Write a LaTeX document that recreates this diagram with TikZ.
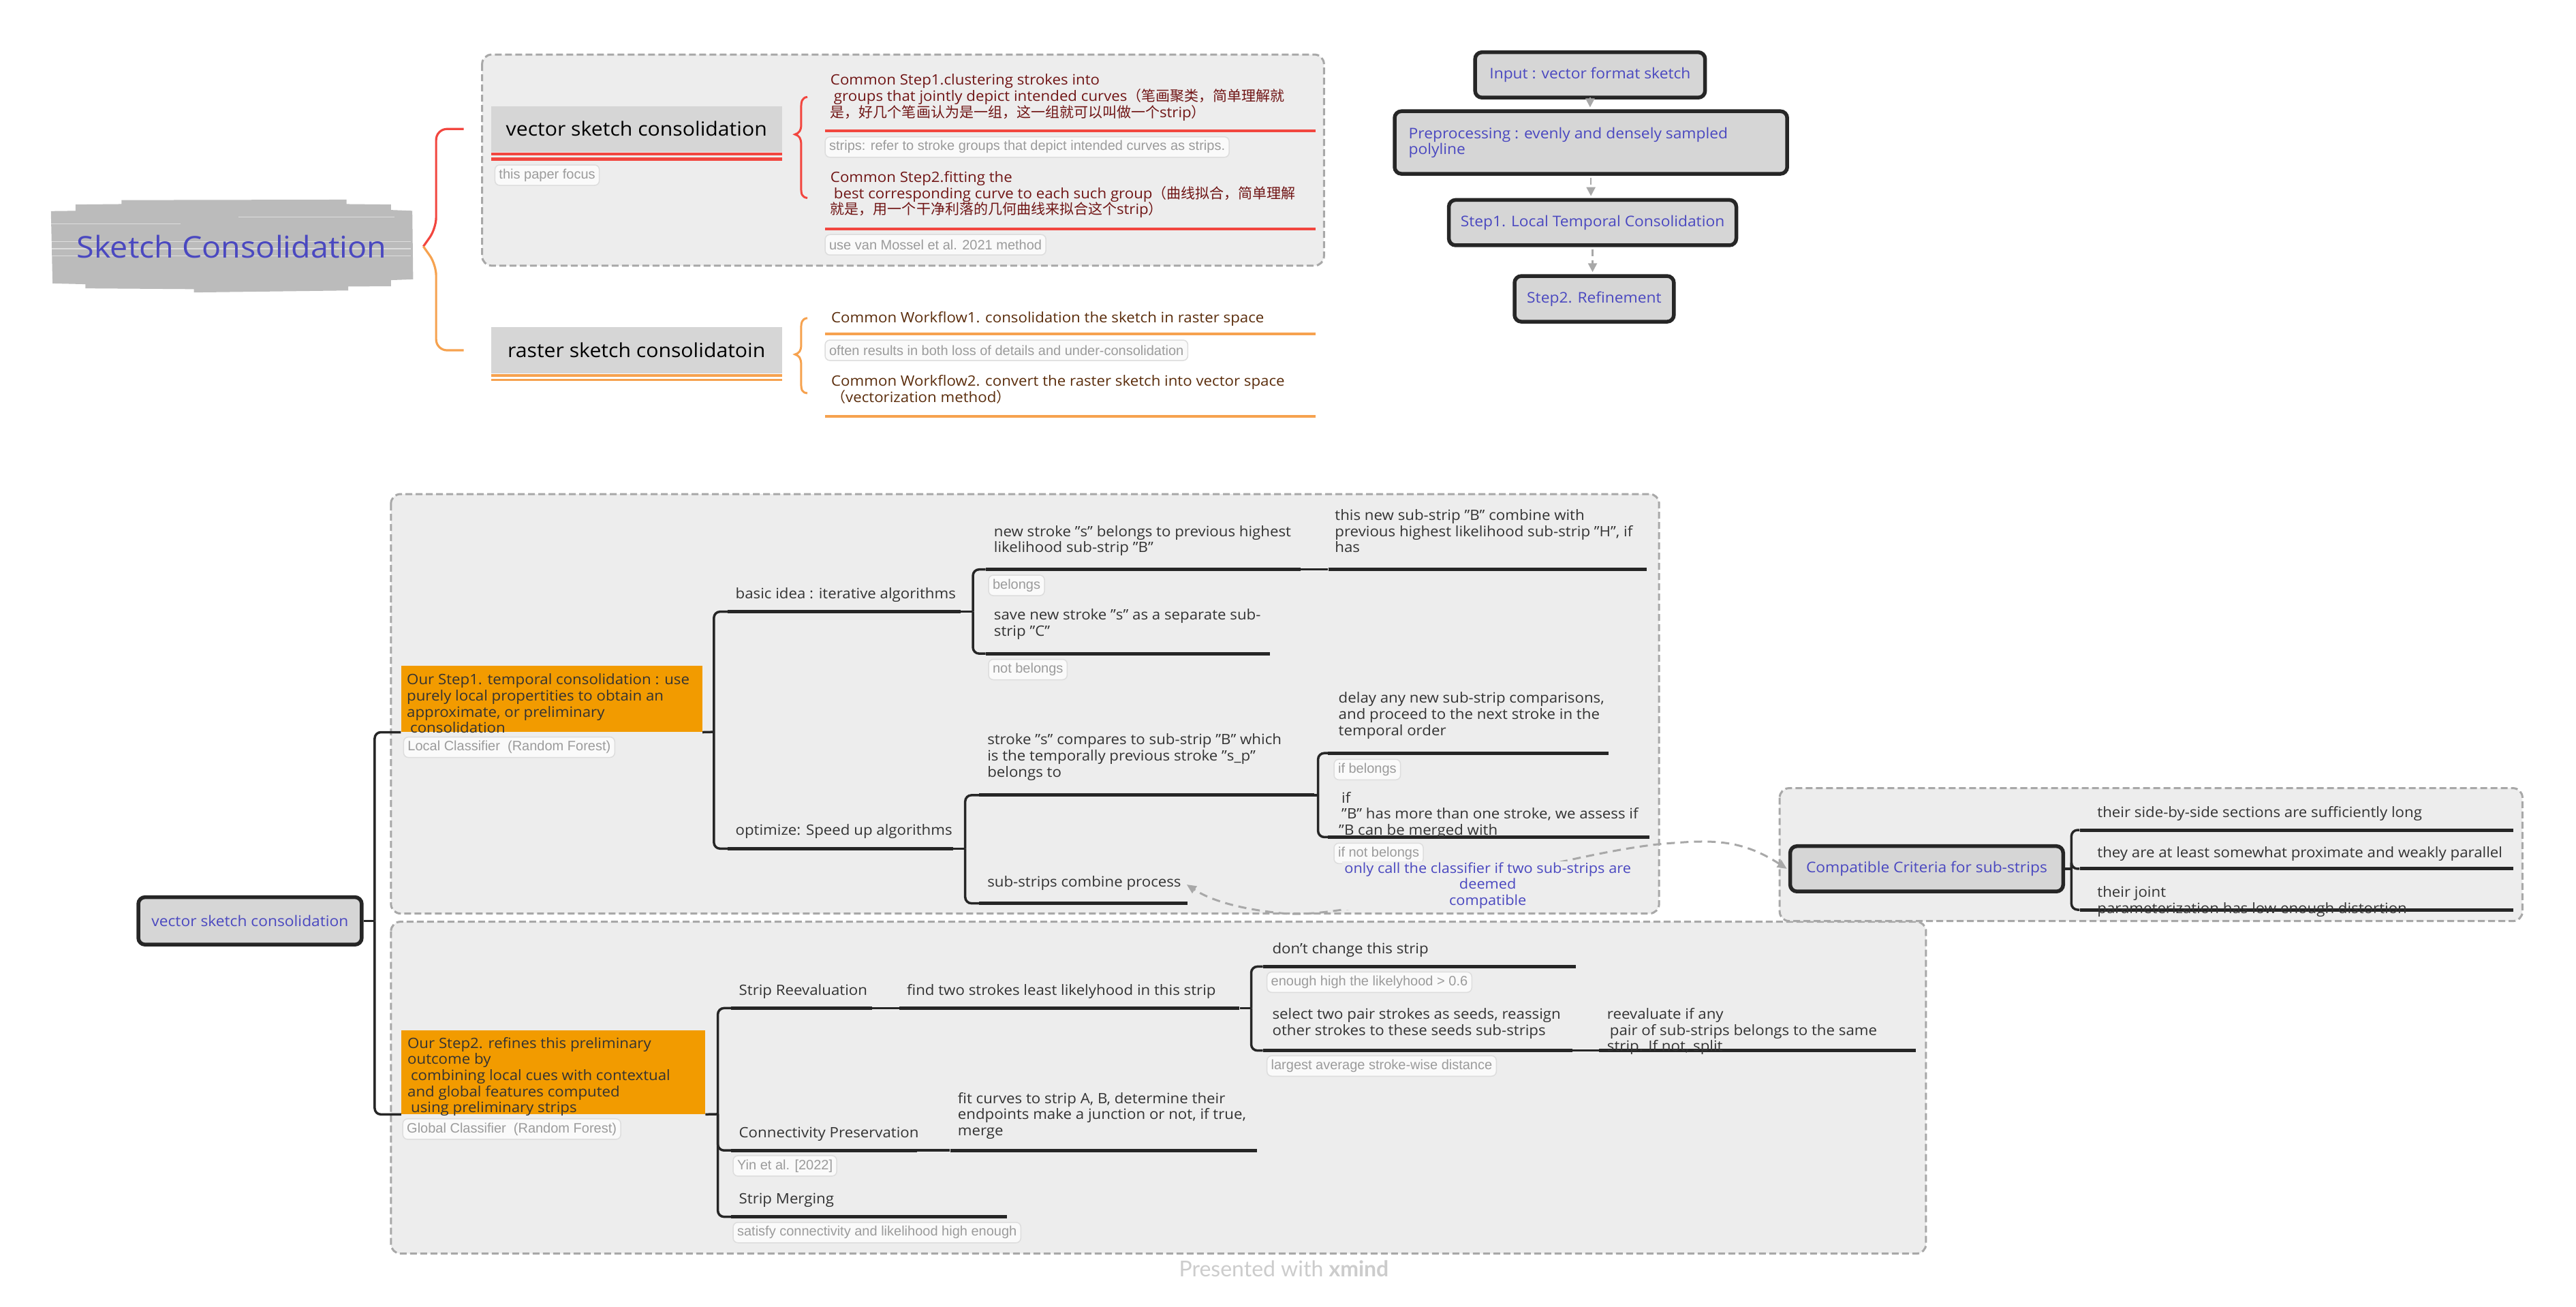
\documentclass[tikz,border=0pt]{standalone}
\usepackage{fontspec}
\setmainfont{Open Sans}[FakeStretch=1.06]
\newfontfamily\cjk{Noto Sans CJK SC}
\newfontfamily\lblf{Liberation Sans}
\newfontfamily\latof{Lato}
\usetikzlibrary{arrows.meta,calc}
\definecolor{ink}{HTML}{262626}
\definecolor{textc}{HTML}{333333}
\definecolor{grpfill}{HTML}{EDEDED}
\definecolor{grpline}{HTML}{A8A8A8}
\definecolor{nodegray}{HTML}{D6D6D6}
\definecolor{rootgray}{HTML}{BBBBBB}
\definecolor{blueT}{HTML}{4A48C0}
\definecolor{redL}{HTML}{F2463F}
\definecolor{orangeL}{HTML}{F6A24F}
\definecolor{maroon}{HTML}{701515}
\definecolor{brownT}{HTML}{5A2C0B}
\definecolor{orangeBox}{HTML}{F29B00}
\definecolor{lblT}{HTML}{9B9B9B}
\definecolor{lblB}{HTML}{DDDDDD}
\definecolor{lblF}{HTML}{FAFAFA}
\definecolor{arrowG}{HTML}{A8A8A8}
\definecolor{footG}{HTML}{CCCCCC}
\def\U{*2.411pt}
\newcommand{\ml}[1]{\vtop{\baselineskip=23.6pt\lineskiplimit=-20pt\halign{##\hfil\cr#1\crcr}}}
\newcommand{\mlc}[1]{\vtop{\baselineskip=23.6pt\lineskiplimit=-20pt\halign{\hfil##\hfil\cr#1\crcr}}}
\newcommand{\zh}[1]{{\cjk\fontsize{21}{23.6}\selectfont #1}}
\begin{document}
\begin{tikzpicture}[x=2.411pt,y=-2.411pt,
  txt/.style={inner sep=0pt, anchor=base west, text=textc, font=\fontsize{21}{23.6}\selectfont},
  ul/.style={rectangle, fill=ink, inner sep=0pt, minimum height=5pt, anchor=west},
  ulred/.style={ul, fill=redL, minimum height=4.5pt},
  ulor/.style={ul, fill=orangeL, minimum height=4.5pt},
  conn/.style={draw=ink, line width=3.5pt},
  rc/.style={conn, rounded corners=9pt},
  lbl/.style={rectangle, rounded corners=7pt, draw=lblB, fill=lblF, line width=1.5pt, inner xsep=6pt, inner ysep=0pt, minimum height=30pt, text=lblT, font=\lblf\fontsize{20}{22}\selectfont, anchor=west},
  grp/.style={draw=grpline, fill=grpfill, line width=3pt, dash pattern=on 10pt off 5pt, rounded corners=14pt},
  fbox/.style={rectangle, fill=nodegray, draw=ink, line width=5.5pt, rounded corners=10pt, text=blueT, font=\fontsize{21.5}{24}\selectfont, inner sep=0pt},
  gnode/.style={rectangle, fill=nodegray, inner sep=0pt, text=black, font=\fontsize{28.5}{32}\selectfont},
  obox/.style={rectangle, fill=orangeBox, inner sep=0pt, anchor=north west},
  arr/.style={draw=arrowG, line width=2.5pt, -{Triangle[length=13pt,width=13pt]}, shorten >=3pt, shorten <=3pt},
]
\fill[white] (0,0) rectangle (1568.2,795.5);
\useasboundingbox (0,0) rectangle (1568.2,795.5);

% groups
\draw[grp] (293.5,33.2) rectangle (806,161.7);
\draw[grp] (238,300.7) rectangle (1010,556);
\draw[grp] (238,561) rectangle (1172.5,763);
\draw[grp] (1083.4,479.7) rectangle (1535.6,560.6);

% root blob
\fill[rootgray] (31,128.5) -- (46,128.3) -- (46,124.5) -- (74,124.2) -- (74,121.8) -- (211,121.5) -- (211,124.2) -- (238,124.5) -- (238,127.8) -- (251,128.3) -- (251.5,170) -- (238,170.5) -- (238,174.2) -- (212,174.4) -- (212,176.8) -- (118,178) -- (118,176) -- (52,175.5) -- (52,173) -- (32,172.5) -- cycle;
\draw[white, opacity=0.5, line width=1.2pt] (145,132.2) -- (240,132.2) (31,136.4) -- (110,136.4) (31,147) -- (250,147) (31,151.4) -- (250,151.4) (31,155.6) -- (250,155.6);
\node[inner sep=0pt, minimum width=220\U, minimum height=50\U, text=blueT, font=\fontsize{44}{50}\selectfont] (root) at (141,150) {Sketch Consolidation};

% top branches
\node[gnode, minimum width=177\U, minimum height=28\U] (vec) at (387.5,78.5) {vector sketch consolidation};
\fill[redL] (299,92.9) rectangle (476,94.7);
\fill[redL] (299,96) rectangle (476,97.7);
\node[lbl] (lFocus) at (301,106.6) {this paper focus};
\node[gnode, minimum width=177\U, minimum height=28.5\U] (ras) at (387.5,213.2) {raster sketch consolidatoin};
\fill[orangeL] (299,227.6) rectangle (476,229.4);
\fill[orangeL] (299,230.4) rectangle (476,232);

\draw[redL, line width=3.2pt, rounded corners=16pt] ([xshift=16pt]root.east) -- (265.5,139) |- ([xshift=-40pt]vec.west);
\draw[orangeL, line width=3.2pt, rounded corners=16pt] ([xshift=16pt]root.east) -- (265.5,161) |- ([xshift=-40pt]ras.west);

% braces
\draw[redL, line width=3pt] (491.5,59) .. controls (488,59.5) and (487.7,62) .. (487.7,66) -- (487.7,76) .. controls (487.7,79.5) and (486.5,81) .. (484,81.8) .. controls (486.5,82.6) and (487.7,84) .. (487.7,88) -- (487.7,114) .. controls (487.7,118) and (488,120) .. (491.5,120.5);
\draw[orangeL, line width=3pt] (491.5,193.6) .. controls (488,194) and (487.7,196.5) .. (487.7,200) -- (487.7,210) .. controls (487.7,213.5) and (486.5,215) .. (484,215.7) .. controls (486.5,216.5) and (487.7,218) .. (487.7,222) -- (487.7,233) .. controls (487.7,237) and (488,239) .. (491.5,239.3);

% vector sketch consolidation children
\node[txt, text=maroon] (tS1) at (505.5,51.8) {\ml{Common Step1.clustering strokes into\cr
 \hskip5pt groups that jointly depict intended curves\zh{（笔画聚类，简单理解就}\cr
 \zh{是，好几个笔画认为是一组，这一组就可以叫做一个}strip\zh{）}}};
\node[ulred, minimum width=299\U] (uS1) at (502,79.6) {};
\node[lbl] (lStrips) at (502,89.5) {strips: refer to stroke groups that depict intended curves as strips.};
\node[txt, text=maroon] (tS2) at (505.5,111) {\ml{Common Step2.fitting the\cr
 \hskip5pt best corresponding curve to each such group\zh{（曲线拟合，简单理解}\cr
 \zh{就是，用一个干净利落的几何曲线来拟合这个}strip\zh{）}}};
\node[ulred, minimum width=299\U] (uS2) at (502,139.3) {};
\node[lbl] (lMossel) at (502,149) {use van Mossel et al. 2021 method};

% raster children
\node[txt, text=brownT] (tW1) at (506,196.3) {Common Workflow1. consolidation the sketch in raster space};
\node[ulor, minimum width=299\U] (uW1) at (502,203.2) {};
\node[lbl] (lOften) at (502,213.2) {often results in both loss of details and under-consolidation};
\node[txt, text=brownT] (tW2) at (506,235) {\ml{Common Workflow2. convert the raster sketch into vector space\cr \zh{（}vectorization method\zh{）}}};
\node[ulor, minimum width=299\U] (uW2) at (502,253.5) {};

% flowchart
\node[fbox, minimum width=140\U, minimum height=27.6\U] (fIn) at (968,45.6) {Input : vector format sketch};
\node[fbox, minimum width=239\U, minimum height=38.1\U] (fPre) at (968.5,86.75) {};
\node[txt, text=blueT, font=\fontsize{21.5}{23.6}\selectfont] (fPreT) at (857.5,84.3) {\ml{Preprocessing : evenly and densely sampled\cr polyline}};
\node[fbox, minimum width=175\U, minimum height=27.6\U] (fS1) at (969.5,135.5) {Step1. Local Temporal Consolidation};
\node[fbox, minimum width=97\U, minimum height=27.8\U] (fS2) at (970.5,181.9) {Step2. Refinement};
\draw[arr] (fIn.south) -- (fIn.south |- fPre.north);
\draw[arr, dash pattern=on 10pt off 6pt] (fPre.south) -- (fPre.south |- fS1.north);
\draw[arr, dash pattern=on 10pt off 6pt] (fS1.south) -- (fS1.south |- fS2.north);

% bottom tree
\node[fbox, minimum width=136\U, minimum height=28.9\U] (bRoot) at (152.2,560.5) {vector sketch consolidation};
\node[obox, minimum width=183.5\U, minimum height=40.2\U] (s1) at (244,405.3) {};
\node[txt] (s1t) at (247.6,416.8) {\ml{Our Step1. temporal consolidation : use\cr purely local propertities to obtain an\cr approximate, or preliminary\cr \hskip5pt consolidation}};
\node[lbl] (lLocal) at (245.4,454.8) {Local Classifier\ \ (Random Forest)};
\node[obox, minimum width=185.1\U, minimum height=51.1\U] (s2) at (244.2,627) {};
\node[txt] (s2t) at (248,638) {\ml{Our Step2. refines this preliminary\cr outcome by\cr \hskip5pt combining local cues with contextual\cr and global features computed\cr \hskip5pt using preliminary strips}};
\node[lbl] (lGlobal) at (244.9,687.2) {Global Classifier\ \ (Random Forest)};
\coordinate (f0) at (228.1,560.5);
\draw[conn] (bRoot.east) -- (f0);
\draw[rc] (f0) |- (s1.south west);
\draw[rc] (f0) |- (s2.south west);

% step1 branch
\coordinate (f1) at (434.6,445.5);
\draw[conn] (s1.south east) -- (f1);
\node[ul, minimum width=141.6\U] (uBasic) at (443,372.3) {};
\node[txt] (tBasic) at (447.7,364.2) {basic idea : iterative algorithms};
\node[ul, minimum width=137\U] (uOpt) at (443,516.5) {};
\node[txt] (tOpt) at (447.7,508.4) {optimize: Speed up algorithms};
\draw[rc] (f1) |- (uBasic.west);
\draw[rc] (f1) |- (uOpt.west);

\coordinate (f2) at (592.3,372.3);
\draw[conn] (uBasic.east) -- (f2);
\node[ul, minimum width=191.8\U] (uNew) at (600,346.6) {};
\node[txt] (tNew) at (605,326.5) {\ml{new stroke "s" belongs to previous highest\cr likelihood sub-strip "B"}};
\node[lbl] (lBel) at (601.5,356.3) {belongs};
\node[ul, minimum width=173\U] (uSave) at (600,397.8) {};
\node[txt] (tSave) at (605,377.3) {\ml{save new stroke "s" as a separate sub-\cr strip "C"}};
\node[lbl] (lNot) at (601.5,407.5) {not belongs};
\draw[rc] (f2) |- (uNew.west);
\draw[rc] (f2) |- (uSave.west);
\node[ul, minimum width=194\U] (uThis) at (808.5,346.6) {};
\node[txt] (tThis) at (812.6,316.7) {\ml{this new sub-strip "B" combine with\cr previous highest likelihood sub-strip "H", if\cr has}};
\draw[conn] (uNew.east) -- (uThis.west);

\coordinate (f3) at (587.6,516.5);
\draw[conn] (uOpt.east) -- (f3);
\node[ul, minimum width=204\U] (uCmp) at (596,484) {};
\node[txt] (tCmp) at (601,453.3) {\ml{stroke "s" compares to sub-strip "B" which\cr is the temporally previous stroke "s\_p"\cr belongs to}};
\node[ul, minimum width=127\U] (uSub) at (596,549.8) {};
\node[txt] (tSub) at (601,539.8) {sub-strips combine process};
\draw[rc] (f3) |- (uCmp.west);
\draw[rc] (f3) |- (uSub.west);

\coordinate (f4) at (802.4,484);
\draw[conn] (uCmp.east) -- (f4);
\node[ul, minimum width=170.6\U] (uDelay) at (808.4,458.4) {};
\node[txt] (tDelay) at (814.8,428) {\ml{delay any new sub-strip comparisons,\cr and proceed to the next stroke in the\cr temporal order}};
\node[lbl] (lIfB) at (811.8,468.4) {if belongs};
\node[ul, minimum width=195.6\U] (uIf) at (808.4,509.5) {};
\node[txt] (tIf) at (815,488.6) {\ml{\hskip4pt if\cr \hskip4pt "B" has more than one stroke, we assess if\cr "B can be merged with}};
\node[lbl] (lIfN) at (811.8,519.4) {if not belongs};
\draw[rc] (f4) |- (uDelay.west);
\draw[rc] (f4) |- (uIf.west);

% compatible criteria
\node[fbox, minimum width=166.2\U, minimum height=27.6\U] (cmp) at (1172.9,528.8) {Compatible Criteria for sub-strips};
\coordinate (f5) at (1261,528.8);
\draw[conn] (cmp.east) -- (f5);
\node[ul, minimum width=264\U] (uC1) at (1266,505.2) {};
\node[ul, minimum width=264\U] (uC2) at (1266,528.8) {};
\node[ul, minimum width=264\U] (uC3) at (1266,553.7) {};
\node[txt] (tC1) at (1276.7,497.7) {their side-by-side sections are sufficiently long};
\node[txt] (tC2) at (1276.7,521.9) {they are at least somewhat proximate and weakly parallel};
\node[txt] (tC3) at (1276.7,546.1) {\ml{their joint\cr parameterization has low enough distortion}};
\draw[rc] (f5) |- (uC1.west);
\draw[rc] (f5) |- (uC2.west);
\draw[rc] (f5) |- (uC3.west);

\draw[draw=arrowG, line width=3pt, dash pattern=on 12pt off 8pt, {Triangle[length=14pt,width=12pt]}-{Triangle[length=14pt,width=12pt]}] ([xshift=-2pt]cmp.west) .. controls (1062,512) and (1045,511) .. (1020,513) .. controls (960,516) and (830,560) .. (782,556) .. controls (755,553.5) and (737,548) .. ([xshift=8pt,yshift=-2pt]tSub.east);
\node[txt, text=blueT, fill=grpfill, inner xsep=3pt, inner ysep=2pt, font=\fontsize{20.5}{23.6}\selectfont, anchor=base] (tOnly) at (905.7,531.4) {\mlc{only call the classifier if two sub-strips are\cr deemed\cr compatible}};

% step2 branch
\coordinate (f6) at (437,678.1);
\draw[conn] (s2.south east) -- (f6);
\node[ul, minimum width=85.7\U] (uReev) at (445,613.6) {};
\node[txt] (tReev) at (449.8,605.6) {Strip Reevaluation};
\node[ul, minimum width=113\U] (uConn) at (445,700.2) {};
\node[txt] (tConn) at (449.8,692.5) {Connectivity Preservation};
\node[lbl] (lYin) at (446,709.6) {Yin et al. [2022]};
\node[ul, minimum width=168\U] (uMerge) at (445,740.6) {};
\node[txt] (tMerge) at (449.8,732.7) {Strip Merging};
\node[lbl] (lSat) at (446,750.2) {satisfy connectivity and likelihood high enough};
\draw[rc] (f6) |- (uReev.west);
\draw[rc] (f6) |- (uConn.west);
\draw[rc] (f6) |- (uMerge.west);

\node[ul, minimum width=207.1\U] (uFind) at (547.4,613.6) {};
\node[txt] (tFind) at (552,605.6) {find two strokes least likelyhood in this strip};
\draw[conn] (uReev.east) -- (uFind.west);
\coordinate (f7) at (761.7,613.6);
\draw[conn] (uFind.east) -- (f7);
\node[ul, minimum width=190.5\U] (uDont) at (768.8,588.3) {};
\node[txt] (tDont) at (774.5,580.3) {don't change this strip};
\node[lbl] (lEn) at (771,597.8) {enough high the likelyhood > 0.6};
\node[ul, minimum width=188.2\U] (uSel) at (768.8,639.4) {};
\node[txt] (tSel) at (774.5,620.3) {\ml{select two pair strokes as seeds, reassign\cr other strokes to these seeds sub-strips}};
\node[lbl] (lLarg) at (771,648.8) {largest average stroke-wise distance};
\draw[rc] (f7) |- (uDont.west);
\draw[rc] (f7) |- (uSel.west);
\node[ul, minimum width=192.8\U] (uRe) at (973.5,639.4) {};
\node[txt] (tRe) at (978.3,620.3) {\ml{reevaluate if any\cr \hskip4pt pair of sub-strips belongs to the same\cr strip. If not, split}};
\draw[conn] (uSel.east) -- (uRe.west);
\node[ul, minimum width=186.7\U] (uFit) at (578.3,700.2) {};
\node[txt] (tFit) at (583,671.5) {\ml{fit curves to strip A, B, determine their\cr endpoints make a junction or not, if true,\cr merge}};
\draw[conn] (uConn.east) -- (uFit.west);

\node[inner sep=0pt, anchor=base west, text=footG, font=\latof\fontsize{32}{34}\selectfont] (credit) at (717.7,776.9) {Presented with \textbf{xmind}};
\end{tikzpicture}
\end{document}
